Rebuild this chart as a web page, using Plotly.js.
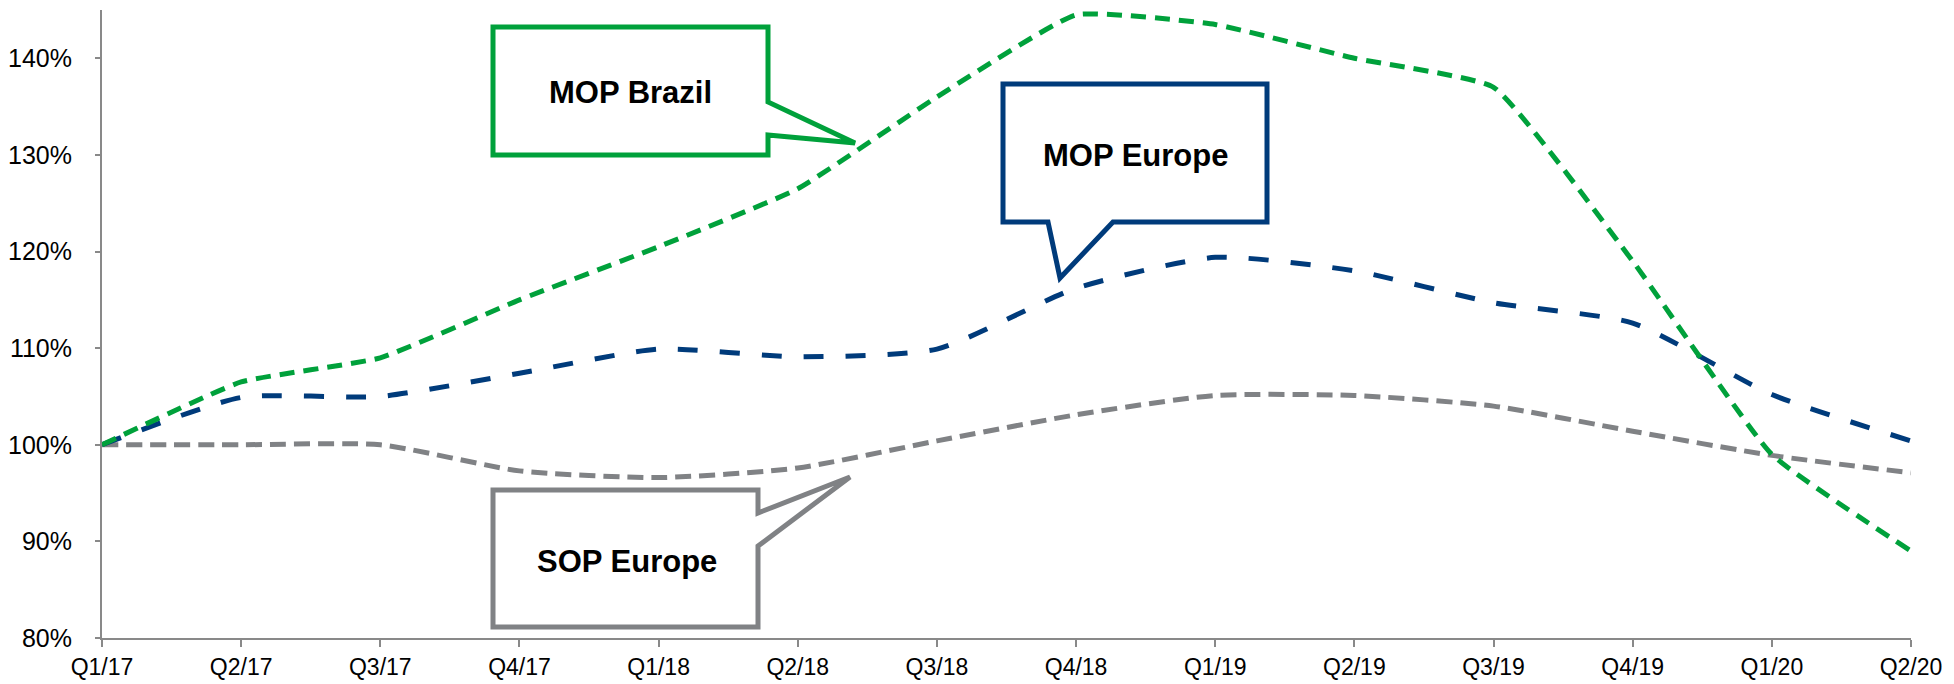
<!DOCTYPE html>
<html>
<head>
<meta charset="utf-8">
<script src="https://cdn.plot.ly/plotly-3.0.1.min.js"></script>
<style>
  html, body { margin: 0; padding: 0; background: #fff; }
  #chart { width: 1954px; height: 684px; }
</style>
</head>
<body>
<div id="chart"></div>
<script>
// ---- data (values in %) ----
const quarters = ["Q1/17","Q2/17","Q3/17","Q4/17","Q1/18","Q2/18","Q3/18","Q4/18","Q1/19","Q2/19","Q3/19","Q4/19","Q1/20","Q2/20"];
const mopBrazil = [100, 106.5, 109, 115, 120.5, 126.5, 136, 144.5, 143.5, 140, 137, 119, 99, 89];
const mopEurope = [100, 104.9, 105, 107.4, 109.9, 109.1, 109.9, 116.2, 119.4, 118, 114.7, 112.6, 105.2, 100.4];
const sopEurope = [100, 100, 100, 97.3, 96.6, 97.6, 100.4, 103.1, 105.1, 105.1, 104, 101.4, 98.9, 97.1];
const yTicks = [80, 90, 100, 110, 120, 130, 140];
const seriesNames = ["MOP Brazil", "MOP Europe", "SOP Europe"];

// ---- layout geometry ----
const W = 1954, H = 684;
const M = {l: 102, r: 43, t: 10, b: 46};
const xRange = [0, quarters.length - 1];
const yRange = [80, 145];
const plotW = W - M.l - M.r, plotH = H - M.t - M.b;
// convert page pixel position to data coords (for callout placement only)
const X = px => xRange[0] + (px - M.l) / plotW * (xRange[1] - xRange[0]);
const Y = py => yRange[1] - (py - M.t) / plotH * (yRange[1] - yRange[0]);

const GREEN = "#00A13B", NAVY = "#003B7B", GRAY = "#808285";
const xIdx = quarters.map((_, i) => i);

const traces = [
  {x: xIdx, y: sopEurope, name: seriesNames[2], mode: "lines",
   line: {color: GRAY, width: 5, dash: "16px,8px", shape: "spline", smoothing: 0.6}},
  {x: xIdx, y: mopEurope, name: seriesNames[1], mode: "lines",
   line: {color: NAVY, width: 5, dash: "20px,22px", shape: "spline", smoothing: 0.6}},
  {x: xIdx, y: mopBrazil, name: seriesNames[0], mode: "lines",
   line: {color: GREEN, width: 5, dash: "15px,9px", shape: "spline", smoothing: 0.4}}
];

function pathFrom(pts) {
  return "M " + pts.map(p => X(p[0]) + "," + Y(p[1])).join(" L ") + " Z";
}
const calloutBrazil = [[493,27],[768,27],[768,102],[855,143],[768,135],[768,155],[493,155]];
const calloutMopEu = [[1003,84],[1267,84],[1267,222],[1113,222],[1060,278],[1048,222],[1003,222]];
const calloutSopEu = [[493,490],[758,490],[758,513],[850,477],[758,546],[758,627],[493,627]];

const shapes = [
  {type: "path", xref: "x", yref: "y", path: pathFrom(calloutBrazil), fillcolor: "#fff", line: {color: GREEN, width: 5}, layer: "above"},
  {type: "path", xref: "x", yref: "y", path: pathFrom(calloutMopEu), fillcolor: "#fff", line: {color: NAVY, width: 5}, layer: "above"},
  {type: "path", xref: "x", yref: "y", path: pathFrom(calloutSopEu), fillcolor: "#fff", line: {color: GRAY, width: 5}, layer: "above"}
];

const labelFont = {family: "Liberation Sans, Arial, sans-serif", size: 31, color: "#000", weight: "bold"};
const annotations = [
  {x: X(630), y: Y(92), text: "<b>" + seriesNames[0] + "</b>", showarrow: false, font: labelFont, xref: "x", yref: "y"},
  {x: X(1135), y: Y(155), text: "<b>" + seriesNames[1] + "</b>", showarrow: false, font: labelFont, xref: "x", yref: "y"},
  {x: X(627), y: Y(561), text: "<b>" + seriesNames[2] + "</b>", showarrow: false, font: labelFont, xref: "x", yref: "y"}
];

const layout = {
  width: W, height: H,
  margin: M,
  paper_bgcolor: "#fff", plot_bgcolor: "#fff",
  showlegend: false,
  font: {family: "Liberation Sans, Arial, sans-serif", color: "#000"},
  xaxis: {
    range: xRange, tickmode: "array", tickvals: xIdx, ticktext: quarters,
    showgrid: false, zeroline: false, showline: true, linecolor: "#898989", linewidth: 2,
    ticks: "outside", ticklen: 7, tickwidth: 2, tickcolor: "#898989",
    tickfont: {size: 23, color: "#000"}, ticklabelstandoff: 0, fixedrange: true
  },
  yaxis: {
    range: yRange, tickmode: "array", tickvals: yTicks, ticktext: yTicks.map(v => v + "%"),
    showgrid: false, zeroline: false, showline: true, linecolor: "#898989", linewidth: 2,
    ticks: "outside", ticklen: 5, tickwidth: 2, tickcolor: "#898989",
    tickfont: {size: 25, color: "#000"}, ticklabelstandoff: 18, fixedrange: true
  },
  shapes: shapes,
  annotations: annotations
};

Plotly.newPlot("chart", traces, layout, {displayModeBar: false, staticPlot: true});
</script>
</body>
</html>
